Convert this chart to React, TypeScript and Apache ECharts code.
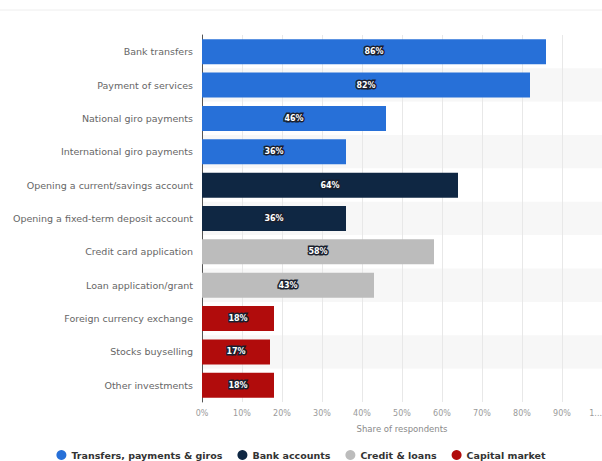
import React, { useEffect, useRef } from "react";
import * as echarts from "echarts";

const categories = [
  "Bank transfers",
  "Payment of services",
  "National giro payments",
  "International giro payments",
  "Opening a current/savings account",
  "Opening a fixed-term deposit account",
  "Credit card application",
  "Loan application/grant",
  "Foreign currency exchange",
  "Stocks buyselling",
  "Other investments",
];
const values = [86, 82, 46, 36, 64, 36, 58, 43, 18, 17, 18];
const groupOf = [0, 0, 0, 0, 1, 1, 2, 2, 3, 3, 3];
const groupNames = ["Transfers, payments & giros", "Bank accounts", "Credit & loans", "Capital market"];
const groupColors = ["#2770d8", "#0f2743", "#bcbcbc", "#b10c0c"];

export default function App() {
  const ref = useRef<HTMLDivElement>(null);
  useEffect(() => {
    if (!ref.current) return;
    const chart = echarts.init(ref.current, undefined, { renderer: "svg" });
    const series = groupNames.map((name, g) => ({
      name,
      type: "bar",
      stack: "all",
      barWidth: 25,
      itemStyle: { color: groupColors[g] },
      label: {
        show: true,
        position: "inside",
        formatter: (p: any) => p.value + "%",
        color: "#fff",
        fontSize: 8,
        fontWeight: "bold",
        fontFamily: "DejaVu Sans",
        textBorderColor: "#1a1f2e",
        textBorderWidth: 3,
      },
      data: values.map((v, i) => (groupOf[i] === g ? v : "-")),
    }));
    chart.setOption({
      animation: false,
      backgroundColor: "#fff",
      graphic: [
        {
          type: "line",
          shape: { x1: 0, y1: 10, x2: 602, y2: 10 },
          style: { stroke: "#eeeeee", lineWidth: 1 },
        },
      ],
      grid: { left: 202, right: 0, top: 35, bottom: 59, outerBoundsMode: "none", containLabel: false },
      xAxis: {
        type: "value",
        min: 0,
        max: 100,
        interval: 10,
        axisLine: { show: false },
        axisTick: { show: false },
        splitLine: { show: true, lineStyle: { color: "#e8e8e8" } },
        axisLabel: {
          color: "#9a9a9a",
          fontSize: 8,
          fontFamily: "DejaVu Sans",
          margin: 7,
          alignMaxLabel: "right",
          formatter: (v: number) => (v === 100 ? "1..." : v + "%"),
        },
        name: "Share of respondents",
        nameLocation: "middle",
        nameGap: 22,
        nameTextStyle: { color: "#8a8a8a", fontSize: 8.5, fontFamily: "DejaVu Sans" },
      },
      yAxis: {
        type: "category",
        data: categories,
        inverse: true,
        axisLine: { show: true, lineStyle: { color: "#555", width: 1 } },
        axisTick: { show: false },
        splitArea: { show: true, areaStyle: { color: ["#ffffff", "#f7f7f7"] } },
        axisLabel: { color: "#666", fontSize: 9.5, fontFamily: "DejaVu Sans", margin: 9 },
      },
      legend: {
        bottom: -4,
        left: "center",
        icon: "circle",
        itemWidth: 10,
        itemHeight: 10,
        itemGap: 15,
        data: groupNames,
        textStyle: { color: "#333", fontSize: 9.5, fontWeight: "bold", fontFamily: "DejaVu Sans" },
      },
      series,
    });
    return () => chart.dispose();
  }, []);
  return (
    <div
      ref={ref}
      style={{ position: "fixed", left: 0, top: 0, width: 602, height: 461 }}
    />
  );
}
